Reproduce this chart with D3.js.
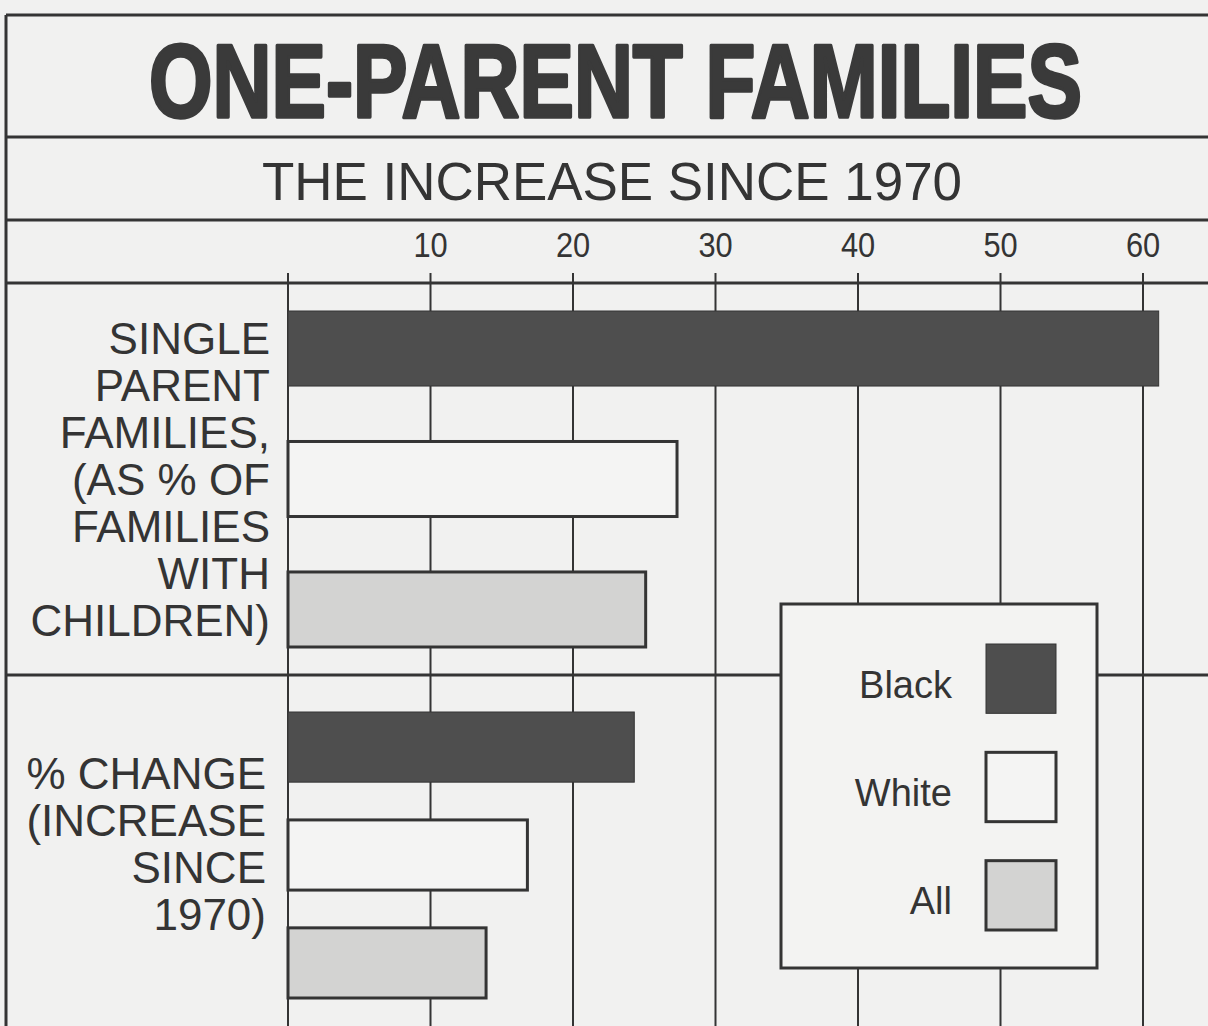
<!DOCTYPE html>
<html>
<head>
<meta charset="utf-8">
<script src="https://cdn.jsdelivr.net/npm/d3@7"></script>
<style>
  html, body { margin: 0; padding: 0; background: #f1f1f0; }
  svg { display: block; }
</style>
</head>
<body>
<div id="chart"></div>
<script>
// chart values
var titleText = "ONE-PARENT FAMILIES";
var subtitleText = "THE INCREASE SINCE 1970";
var groups = ["single", "change"];
var groupLabels = [
    ["SINGLE", "PARENT", "FAMILIES,", "(AS % OF", "FAMILIES", "WITH", "CHILDREN)"],
    ["% CHANGE", "(INCREASE", "SINCE", "1970)"]
];
var series = ["Black", "White", "All"];
var blackValues = [61.1, 24.3];
var whiteValues = [27.3, 16.8];
var allValues = [25.1, 13.9];
var tickValues = [10, 20, 30, 40, 50, 60];

var config = {
    width: 1208,
    height: 1026,
    ink: "#343434",
    paper: "#f1f1f0",
    fills: { Black: "#4e4e4e", White: "#f4f4f3", All: "#d3d3d2" }
};

var valuesBySeries = { Black: blackValues, White: whiteValues, All: allValues };

var svg = d3.select("#chart").append("svg")
    .attr("width", config.width)
    .attr("height", config.height)
    .style("font-family", "'Liberation Sans', Arial, sans-serif");

svg.append("rect")
    .attr("width", config.width).attr("height", config.height)
    .attr("fill", config.paper);

var x = d3.scaleLinear().domain([0, 60]).range([288, 1143]);

// each block of bars gets its own band scale, the clipping spaces them differently
var groupBands = [
    d3.scaleBand().domain(series).range([311, 647]).paddingInner(0.425),
    d3.scaleBand().domain(series).range([712, 998]).paddingInner(0.35)
];

// gridlines behind everything
svg.append("g").selectAll("line.grid")
    .data(x.ticks(6))
    .enter().append("line")
    .attr("x1", d => x(d)).attr("x2", d => x(d))
    .attr("y1", 283).attr("y2", config.height)
    .attr("stroke", config.ink).attr("stroke-width", 2);

// tick marks above the axis rule
svg.append("g").selectAll("line.tick")
    .data(x.ticks(6))
    .enter().append("line")
    .attr("x1", d => x(d)).attr("x2", d => x(d))
    .attr("y1", 273).attr("y2", 283)
    .attr("stroke", config.ink).attr("stroke-width", 2);

// tick labels are tall and a bit narrow in the print
svg.append("g").selectAll("text.ticklabel")
    .data(tickValues)
    .enter().append("text")
    .attr("transform", d => "translate(" + x(d) + ",257) scale(0.88,1)")
    .attr("text-anchor", "middle")
    .attr("font-size", 35)
    .attr("fill", config.ink)
    .text(d => d);

// frame rules
var rules = [15, 137, 220, 283, 675];
svg.append("g").selectAll("line.rule")
    .data(rules)
    .enter().append("line")
    .attr("x1", 6).attr("x2", config.width)
    .attr("y1", d => d).attr("y2", d => d)
    .attr("stroke", config.ink).attr("stroke-width", 3);

svg.append("line")
    .attr("x1", 6).attr("x2", 6)
    .attr("y1", 15).attr("y2", config.height)
    .attr("stroke", config.ink).attr("stroke-width", 3);

// title: squeeze a bold face into the condensed width of the original
var title = svg.append("text")
    .attr("font-size", 104)
    .attr("font-weight", "bold")
    .attr("fill", "#3a3a3a")
    .attr("stroke", "#3a3a3a")
    .attr("stroke-width", 3.5)
    .attr("stroke-linejoin", "round")
    .text(titleText);
var natural = title.node().getComputedTextLength();
var squeeze = 933 / natural;
title.attr("transform", "translate(149,117) scale(" + squeeze + ",1)");

svg.append("text")
    .attr("x", 262).attr("y", 200)
    .attr("textLength", 700)
    .attr("lengthAdjust", "spacingAndGlyphs")
    .attr("font-size", 53)
    .attr("fill", config.ink)
    .text(subtitleText);

// bars
groups.forEach(function (g, gi) {
    var band = groupBands[gi];
    svg.append("g").selectAll("rect.bar")
        .data(series)
        .enter().append("rect")
        .attr("x", x(0))
        .attr("y", d => band(d))
        .attr("width", d => x(valuesBySeries[d][gi]) - x(0))
        .attr("height", band.bandwidth())
        .attr("fill", d => config.fills[d])
        .attr("stroke", config.ink)
        .attr("stroke-width", d => d == "Black" ? 1 : 3);

    // row label, right aligned, centred on its bars
    var lines = groupLabels[gi];
    var mid = gi == 0 ? 479 : 843;
    var first = mid - (lines.length - 1) / 2 * 47 + 16;
    svg.append("g").selectAll("text")
        .data(lines)
        .enter().append("text")
        .attr("x", gi == 0 ? 270 : 266)
        .attr("y", (d, i) => first + i * 47)
        .attr("text-anchor", "end")
        .attr("font-size", 44)
        .attr("fill", config.ink)
        .text(d => d);
});

// legend
var legend = svg.append("g");
legend.append("rect")
    .attr("x", 781).attr("y", 604)
    .attr("width", 316).attr("height", 364)
    .attr("fill", "#f3f3f2")
    .attr("stroke", config.ink)
    .attr("stroke-width", 3);

var legendBand = d3.scaleBand().domain(series).range([644, 930]).paddingInner(0.36);

legend.selectAll("rect.swatch")
    .data(series)
    .enter().append("rect")
    .attr("x", 986)
    .attr("y", d => legendBand(d))
    .attr("width", 70)
    .attr("height", legendBand.bandwidth())
    .attr("fill", d => config.fills[d])
    .attr("stroke", config.ink)
    .attr("stroke-width", d => d == "Black" ? 1 : 3);

legend.selectAll("text")
    .data(series)
    .enter().append("text")
    .attr("x", 952)
    .attr("y", d => legendBand(d) + legendBand.bandwidth() / 2 + 19)
    .attr("text-anchor", "end")
    .attr("font-size", 38)
    .attr("fill", config.ink)
    .text(d => d);
</script>
</body>
</html>
